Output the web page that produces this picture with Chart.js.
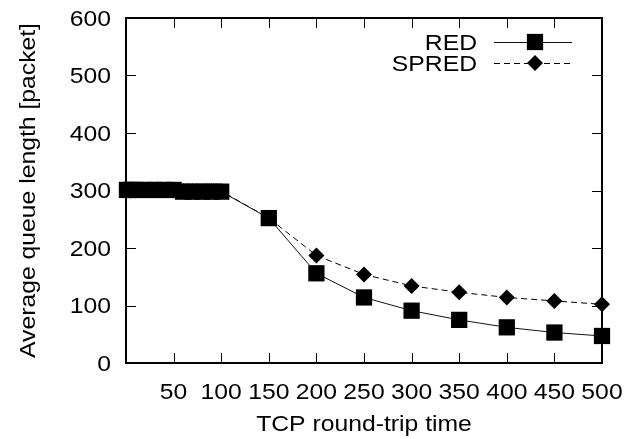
<!DOCTYPE html>
<html><head><meta charset="utf-8">
<script src="https://cdn.jsdelivr.net/npm/chart.js@4"></script>
<style>html,body{margin:0;padding:0;background:#fff}canvas{display:block}</style>
</head><body>
<canvas id="c" width="639" height="439"></canvas>
<script>
const rtt        = [1, 5, 10, 20, 30, 40, 50, 60, 70, 80, 90, 100, 150, 200, 250, 300, 350, 400, 450, 500];
const redQueue   = [301, 301, 301, 301, 301, 301, 301, 298, 298, 298, 298, 298, 252, 156, 114, 91, 75, 62, 53, 47];
const spredQueue = [300, 300, 300, 300, 300, 300, 300, 299, 299, 299, 299, 299, 252, 187, 154, 134, 123, 114, 108, 102];
const seriesNames = ['RED', 'SPRED'];
const xTitle = 'TCP round-trip time';
const yTitle = 'Average queue length [packet]';

const FONT = '"Liberation Sans", Arial, Helvetica, sans-serif';
const FS = 21.5;   // glyph height
const SX = 1.15;   // horizontal stretch of the glyphs (as in the original figure)

function stretchedText(ctx, text, x, y, align, baseline, rot) {
  ctx.save();
  ctx.translate(x, y);
  if (rot) ctx.rotate(rot);
  ctx.scale(SX, 1);
  ctx.font = FS + 'px ' + FONT;
  ctx.fillStyle = '#000';
  ctx.textAlign = align;
  ctx.textBaseline = baseline;
  ctx.fillText(text, 0, 0);
  ctx.restore();
}

const framePlugin = {
  id: 'frame',
  beforeDatasetsDraw(chart) {
    const {ctx, chartArea: a, scales: {x, y}} = chart;
    ctx.save();
    ctx.strokeStyle = '#000';
    ctx.lineWidth = 1;
    const L = 10;
    ctx.beginPath();
    x.ticks.forEach(t => {
      const px = Math.round(x.getPixelForValue(t.value)) + 0.5;
      ctx.moveTo(px, a.bottom); ctx.lineTo(px, a.bottom - L);
      ctx.moveTo(px, a.top); ctx.lineTo(px, a.top + L);
    });
    y.ticks.forEach(t => {
      const py = Math.round(y.getPixelForValue(t.value)) + 0.5;
      ctx.moveTo(a.left, py); ctx.lineTo(a.left + L, py);
      ctx.moveTo(a.right, py); ctx.lineTo(a.right - L, py);
    });
    ctx.stroke();
    ctx.lineWidth = 2;
    ctx.strokeRect(a.left, a.top, a.right - a.left, a.bottom - a.top);
    ctx.restore();
  },
  afterDraw(chart) {
    const {ctx, chartArea: a, scales: {x, y}} = chart;
    // tick labels from the library's scales
    x.ticks.forEach(t => {
      if (t.value === 0) return;
      stretchedText(ctx, String(t.value), x.getPixelForValue(t.value), 399, 'center', 'alphabetic');
    });
    y.ticks.forEach(t => {
      stretchedText(ctx, String(t.value), a.left - 15, y.getPixelForValue(t.value) + 7.7, 'right', 'alphabetic');
    });
    // axis titles
    stretchedText(ctx, xTitle, (a.left + a.right) / 2, 431, 'center', 'alphabetic');
    stretchedText(ctx, yTitle, 29, (a.top + a.bottom) / 2, 'center', 'middle', -Math.PI / 2);
    // legend (text left, sample right)
    const rows = [42, 63];
    chart.data.datasets.forEach((ds, i) => {
      const yy = rows[i];
      stretchedText(ctx, ds.label, 477, yy + 7.7, 'right', 'alphabetic');
      ctx.save();
      ctx.strokeStyle = ds.borderColor;
      ctx.lineWidth = ds.borderWidth;
      ctx.setLineDash(ds.borderDash || []);
      ctx.beginPath(); ctx.moveTo(494, yy + 0.5); ctx.lineTo(572, yy + 0.5); ctx.stroke();
      ctx.setLineDash([]);
      ctx.fillStyle = '#000';
      ctx.strokeStyle = '#000';
      Chart.helpers.drawPoint(ctx, {pointStyle: ds.pointStyle, radius: ds.pointRadius, borderWidth: 0, rotation: 0}, 535, yy);
      ctx.restore();
    });
  }
};

new Chart(document.getElementById('c'), {
  type: 'line',
  data: {
    datasets: [
      {
        label: seriesNames[0],
        data: rtt.map((v, i) => ({x: v, y: redQueue[i]})),
        borderColor: '#111', backgroundColor: '#000', borderWidth: 1,
        pointStyle: 'rect', pointRadius: 11.5, pointBorderWidth: 0, pointBackgroundColor: '#000',
        clip: false, order: 0
      },
      {
        label: seriesNames[1],
        data: rtt.map((v, i) => ({x: v, y: spredQueue[i]})),
        borderColor: '#000', backgroundColor: '#000', borderWidth: 1, borderDash: [6, 4],
        pointStyle: 'rectRot', pointRadius: 8, pointBorderWidth: 0, pointBackgroundColor: '#000',
        clip: false, order: 1
      }
    ]
  },
  options: {
    responsive: false,
    animation: false,
    devicePixelRatio: 1,
    layout: {padding: {top: 18, right: 37, left: 0, bottom: 0}},
    plugins: {legend: {display: false}, tooltip: {enabled: false}},
    elements: {line: {tension: 0}},
    scales: {
      x: {
        type: 'linear', min: 0, max: 500,
        grid: {display: false}, border: {display: false},
        ticks: {stepSize: 50, display: false, autoSkip: false},
        title: {display: false, text: xTitle},
        afterFit(s) { s.height = 76; }
      },
      y: {
        type: 'linear', min: 0, max: 600,
        grid: {display: false}, border: {display: false},
        ticks: {stepSize: 100, display: false},
        title: {display: false, text: yTitle},
        afterFit(s) { s.width = 126; }
      }
    }
  },
  plugins: [framePlugin]
});
</script>
</body></html>
